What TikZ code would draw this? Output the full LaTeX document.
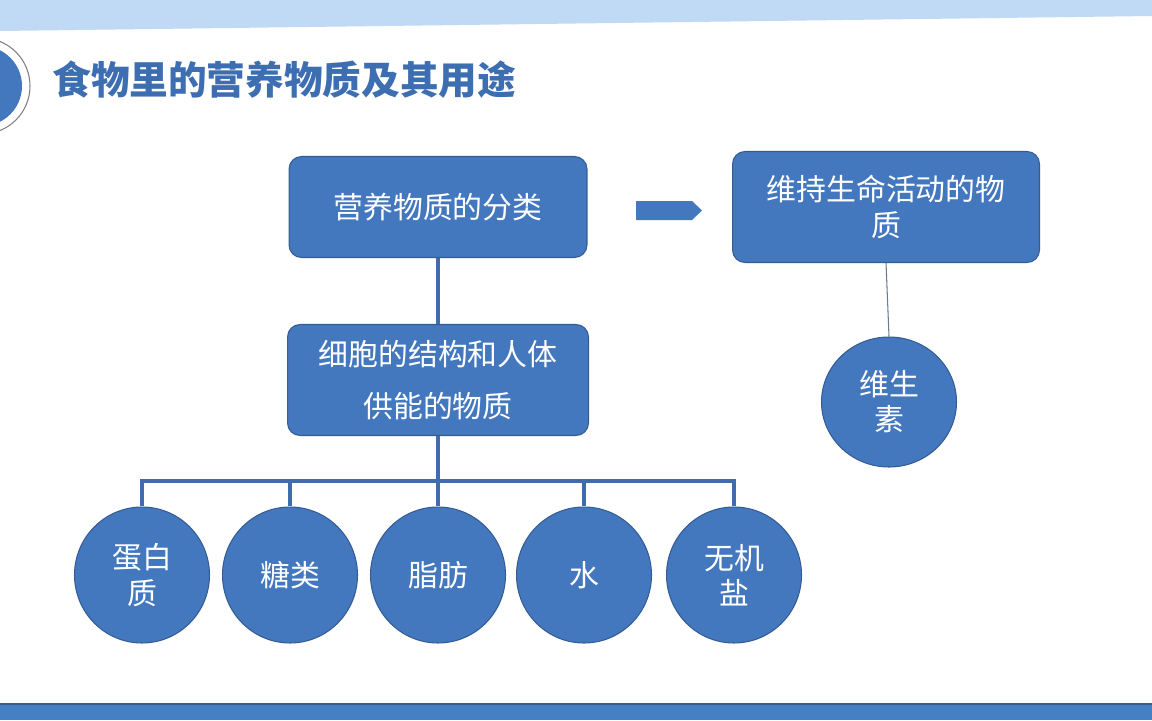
\documentclass[tikz,border=0pt]{standalone}
\usepackage{fontspec}
\newfontfamily\cjk{Noto Sans CJK SC}
\usetikzlibrary{shapes,positioning,calc}
\definecolor{nodeblue}{RGB}{68,120,190}
\definecolor{edgeblue}{RGB}{52,92,148}
\definecolor{lineblue}{RGB}{62,108,172}
\definecolor{titleblue}{RGB}{62,110,178}
\definecolor{bandblue}{RGB}{192,218,246}
\definecolor{barblue}{RGB}{69,128,196}

\begin{document}
\begin{tikzpicture}[x=0.02cm,y=-0.02cm,
    box/.style={rectangle,rounded corners=2.5mm,draw=edgeblue,line width=0.6pt,fill=nodeblue,
      text=white,align=center,font=\cjk\fontsize{17}{30}\selectfont},
    blob/.style={ellipse,draw=edgeblue,line width=0.6pt,fill=nodeblue,text=white,align=center,
      minimum width=2.7cm,minimum height=2.72cm,inner sep=0pt,font=\cjk\fontsize{17}{20}\selectfont},
    link/.style={lineblue,line width=1.9pt}]
  \useasboundingbox (0,0) rectangle (1152,720);
  \fill[white] (0,0) rectangle (1152,720);

  % top band and bottom bar
  \fill[bandblue] (0,0)--(1152,0)--(1152,16)--(0,31)--cycle;
  \fill[barblue] (0,704) rectangle (1152,720);
  \draw[edgeblue,line width=0.8pt] (0,704)--(1152,704);

  % corner badge
  \draw[gray,fill=white,line width=0.6pt] (-18,86) circle (48);
  \fill[nodeblue] (-18,86) circle (40);

  \node[text=titleblue,font=\cjk\bfseries\fontsize{22}{22}\selectfont,anchor=west,inner sep=0pt] (title) at (52,80) {食物里的营养物质及其用途};

  % boxes
  \node[box,minimum width=5.96cm,minimum height=2.02cm] (cls) at (438,207) {营养物质的分类};
  \node[box,minimum width=6.02cm,minimum height=2.22cm] (cell) at (438,380) {细胞的结构和人体\\供能的物质};
  \node[box,minimum width=6.14cm,minimum height=2.22cm,font=\cjk\fontsize{17}{20}\selectfont] (life) at (886,207) {维持生命活动的物\\质};
  \fill[nodeblue] (636,201)--(692,201)--(702,210.5)--(692,220)--(636,220)--cycle;

  % circles
  \node[blob] (prot) at (142,575) {蛋白\\质};
  \node[blob] (sug)  at (290,575) {糖类};
  \node[blob] (fat)  at (438,575) {脂肪};
  \node[blob] (wat)  at (584,575) {水};
  \node[blob] (salt) at (734,575) {无机\\盐};
  \node[blob,minimum height=2.6cm] (vit) at (889,402) {维生\\素};

  % connectors
  \draw[link] (cls.south) -- (cell.north);
  \draw[link] (cell.south) -- (fat.north);
  \draw[link] (prot.north) |- (438,481) -| (salt.north);
  \draw[link] (sug.north) -- (sug.north |- 0,481);
  \draw[link] (wat.north) -- (wat.north |- 0,481);
  \draw[gray!70!lineblue,line width=0.6pt] (life.south) -- (vit.north);
\end{tikzpicture}
\end{document}
